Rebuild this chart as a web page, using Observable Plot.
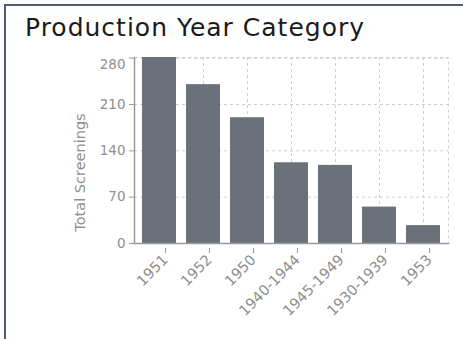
<!DOCTYPE html>
<html>
<head>
<meta charset="utf-8">
<script src="https://cdn.jsdelivr.net/npm/d3@7"></script>
<script src="https://cdn.jsdelivr.net/npm/@observablehq/plot@0.6"></script>
<style>
  html, body { margin: 0; padding: 0; background: #fff; overflow: hidden; }
  body { width: 463px; height: 339px; position: relative; font-family: "DejaVu Sans", sans-serif; }
  #frame { position: absolute; left: 4px; top: 4px; width: 470px; height: 350px; border-left: 2px solid #4f5d73; border-top: 2px solid #4f5d73; box-sizing: border-box; }
  #title { position: absolute; left: 25px; top: 13px; font-size: 25px; line-height: 30px; letter-spacing: 1px; color: #1a1a1a; font-family: "DejaVu Sans", sans-serif; white-space: nowrap; }
  #chart { position: absolute; left: 0; top: 0; }
</style>
</head>
<body>
<div id="frame"></div>
<div id="title">Production Year Category</div>
<div id="chart"></div>
<script>
const categories = ["1951", "1952", "1950", "1940-1944", "1945-1949", "1930-1939", "1953"];
const screenings = [281, 240, 190, 122, 118, 55, 27];
const yTicks = [0, 70, 140, 210, 280];
const yLabel = "Total Screenings";

const data = categories.map((c, i) => ({category: c, value: screenings[i]}));
const yMax = yTicks[yTicks.length - 1];

const chart = Plot.plot({
  width: 463,
  height: 339,
  marginLeft: 134,
  marginRight: 15,
  marginTop: 57,
  marginBottom: 96,
  style: {fontFamily: "'DejaVu Sans', sans-serif", background: "transparent", overflow: "visible"},
  x: {domain: categories, paddingInner: 0.22, paddingOuter: 0.1},
  y: {domain: [0, 281]},
  marks: [
    Plot.gridY(yTicks, {stroke: "#cfcfcf", strokeOpacity: 1, strokeDasharray: "3,3"}),
    Plot.gridX({stroke: "#cfcfcf", strokeOpacity: 1, strokeDasharray: "3,3"}),
    Plot.frame({stroke: "#cfcfcf", strokeDasharray: "3,3"}),
    Plot.barY(data, {x: "category", y: "value", fill: "#6b717a"}),
    Plot.frame({anchor: "left", stroke: "#9a9a9a", strokeWidth: 1.5}),
    Plot.frame({anchor: "bottom", stroke: "#9a9a9a", strokeWidth: 1.5}),
    Plot.axisY(yTicks, {tickSize: 5, stroke: "#9a9a9a", color: "#8f8f8f", fontSize: 13.5, tickPadding: 4,
      tickFormat: d => d === yMax ? "" : String(d), label: null}),
    Plot.text([yMax], {y: d => d, frameAnchor: "left", text: d => String(d), textAnchor: "end", dx: -9, dy: 7, fontSize: 13.5, fill: "#8f8f8f"}),
    Plot.axisX({tickSize: 5, stroke: "#9a9a9a", color: "#8f8f8f", fontSize: 14.5, tickRotate: -45, tickPadding: 4, dx: 6, dy: 5, label: null}),
    Plot.text([yLabel], {frameAnchor: "left", text: d => d, textAnchor: "middle", rotate: -90, dx: -54, dy: 22, fontSize: 14.5, fill: "#8f8f8f"})
  ]
});
document.getElementById("chart").appendChild(chart);
</script>
</body>
</html>
